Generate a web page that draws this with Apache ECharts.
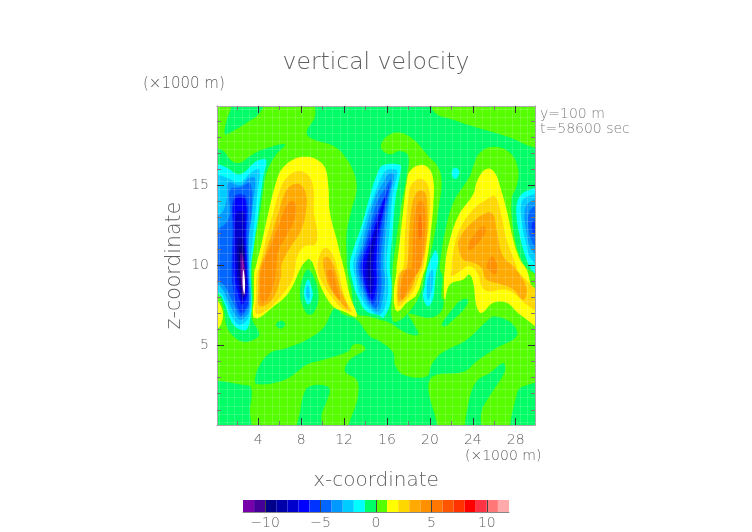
<!DOCTYPE html>
<html>
<head>
<meta charset="utf-8">
<style>html,body{margin:0;padding:0;background:#fff}#chart{width:752px;height:532px}</style>
<script src="https://cdn.jsdelivr.net/npm/echarts@6/dist/echarts.min.js"></script>
</head>
<body>
<div id="chart"></div>
<script>
// colour bar: vertical velocity bands, one per m/s
const bandEdges = [-12,-11,-10,-9,-8,-7,-6,-5,-4,-3,-2,-1,0,1,2,3,4,5,6,7,8,9,10,11,12]
const bandColors = ['#7700aa','#440099','#000088','#0000aa','#0000cc','#0000ff','#0033ff','#0066ff','#0099ff','#00ccff','#00ffff','#00ff66',
  '#55ff00','#ffff00','#ffd700','#ffaa00','#ff9000','#ff7700','#ff5500','#ff3300','#ff0000','#ff3344','#ff7777','#ffaaaa']
const barTicks = [-10,-5,0,5,10]

const xMajor = [4,8,12,16,20,24,28]
const xMinor = [2,6,10,14,18,22,26]
const zMajor = [5,10,15]
const zMinor = [1,2,3,4,6,7,8,9,11,12,13,14,16,17,18,19]

// contour traces, [x, z] in 1000 m
const whole = [[-5,-5],[35,-5],[35,25],[-5,25]]
const negTop = [[9.44,21],[9.29,19.33],[8.51,18.29],[9.13,17.87],[11,17.46],[11.93,16.93],[12.86,15.89],[13.17,14.75],[12.7,13.5],[12.24,12.04],[12.24,10.58],[12.3,9.75],[12.61,8.81],[13.17,7.04],[14.26,6.83],[15.34,6.62],[16.28,6.42],[17.83,5.79],[18.92,5.69],[18.45,6.42],[17.98,6.98],[19.07,6.83],[19.85,6.73],[20.78,6.94],[21.25,7.46],[21.4,8.71],[24.35,9.12],[31.5,9.12],[31.5,17.35],[29.78,17.35],[27.46,17.98],[24.97,18.5],[22.49,19.02],[20.31,19.64],[20,21]]
const posThird = [[15.5,17.66],[16.28,18.18],[17.21,18.29],[18.45,17.87],[19.85,16.83],[20.78,16.1],[21.09,15.16],[20.84,13.71],[20.47,12.04],[20,10.58],[19.69,9.75],[19.54,9.44],[19.07,8.19],[17.98,7.04],[16.74,6.46],[16.43,6.83],[16.43,7.87],[16.52,9.75],[16.83,11.41],[17.27,13.5],[17.83,15.58],[17.98,16.83],[17.21,17.14],[16.28,16.93],[15.5,17.25]]
const posFourth = [[24.04,16.21],[24.66,17.04],[25.9,17.41],[27.46,17.04],[28.23,16],[28.08,14.96],[27.61,14.12],[27.83,12.04],[28.39,10.58],[29.17,9.75],[31,9],[31,4],[24.35,7.04],[21.49,7.87],[21.09,7.98],[21.18,9.33],[20.93,9.75],[21.03,10.58],[21.4,12.04],[22.18,13.91],[23.73,15.58]]
const negLow = [[12.7,-0.6],[13.32,1.94],[13.17,2.87],[12.08,3.4],[12.55,4.12],[13.95,4.75],[13.63,5.06],[12.86,5.06],[12.39,4.65],[10.06,4.12],[8.51,3.81],[7.27,3.19],[6.03,2.77],[3.85,2.6],[3.7,2.98],[4.16,3.81],[5.09,4.54],[6.65,4.85],[8.51,5.37],[10.06,6.1],[11.15,7.35],[11.93,6.94],[13.17,6.62],[14.41,5.58],[15.34,5.27],[16.59,4.54],[16.74,3.81],[17.52,3.19],[19.69,3.08],[20.16,3.81],[21.09,4.54],[23.42,5.37],[25.28,6.52],[26.06,6.83],[27.77,6.31],[28.08,5.58],[26.21,4.85],[24.35,4.02],[23.26,3.4],[20,2.87],[20.31,-0.6]]
const negCornerL = [[-1.5,2.52],[3.07,2.52],[3.39,2.19],[3.23,1.1],[3.07,-0.6],[-1.5,-0.6]]
const negFootA = [[7.73,-0.6],[7.95,1.1],[8.35,2.15],[8.82,2.46],[10.22,2.52],[10.68,2.25],[10.37,1.52],[9.91,0.69],[9.75,-0.6]]
const negFootB = [[23.42,-0.6],[23.57,1.31],[24.35,2.77],[25.59,3.29],[26.83,3.92],[26.99,3.4],[25.75,2.04],[24.82,0.9],[24.66,-0.6]]
const negCornerR = [[27.77,-0.6],[28.08,1.94],[28.7,2.46],[31,2.6],[31,-0.6]]
const negDot = [[5.65,6.31],[6.09,6.56],[6.52,6.35],[6.09,6.06]]
const negPatch = [[21.09,6.31],[22.18,7.35],[22.95,7.87],[23.57,7.87],[23.26,7.35],[22.18,6.62],[21.4,6.21]]
const negMid = [[8.66,9.75],[9.44,8.81],[9.6,7.77],[9.13,7.04],[8.66,6.94],[8.2,7.35],[7.89,8.19],[8.14,9.23]]
const negFinger = [[1.75,20.6],[4.6,20.6],[4.16,19.54],[2.92,18.91],[1.37,18.29],[0.9,18.18],[0.99,18.91],[1.4,19.7]]
const negLeft = [[-1.5,17.29],[0,17.29],[0.75,17.14],[1.52,16.52],[2.3,16.41],[3.23,16.83],[4.47,17.25],[6.49,17.56],[5.56,16.83],[4.78,15.79],[4.47,14.75],[4.16,13.29],[3.7,11.62],[3.39,9.85],[3.48,7.98],[3.39,6.73],[4.1,5.73],[3.54,5.37],[2.61,5.23],[1.68,5.58],[1.06,6.21],[0.81,7.14],[0.43,7.98],[0,8.14],[-1.5,8.14]]

const midCyan = [[8.66,9.12],[8.98,8.6],[9.07,8.08],[8.66,7.56],[8.29,8.08],[8.35,8.71]]
const midBlue = [[8.6,8.81],[8.82,8.19],[8.66,7.87],[8.45,8.19]]
const thinCyan = [[20.53,10.94],[20.78,10.37],[20.62,9.75],[20.47,8.92],[20.31,7.98],[19.85,7.46],[19.38,7.98],[19.54,8.81],[19.75,9.75],[20.16,10.48]]
const thinBlue = [[20.25,9.75],[20.25,8.71],[19.85,7.87],[19.69,8.5],[19.85,9.33]]
const dotCyan = [[22.02,15.79],[22.33,16.1],[22.74,15.89],[22.55,15.48],[22.27,15.41]]

// downdraft near x = 2.5
const w1m2 = [[-1.5,16.35],[0,16.35],[1.06,16.1],[2.3,15.69],[3.85,16.52],[4.72,16.58],[4.47,15.58],[4.01,13.29],[3.54,11],[3.29,9.75],[3.39,7.56],[3.29,6.83],[2.92,6],[2.3,6],[1.68,6.31],[1.21,6.94],[0.9,7.56],[0.43,8.19],[-0.5,8.6],[-1.5,8.6]]
const w1m3 = [[-1.5,15.79],[0,15.69],[1.06,15.48],[2.3,15.21],[3.39,15.83],[4.1,15.96],[3.85,14.12],[3.48,11.62],[3.23,9.75],[3.29,8.81],[3.29,7.46],[2.98,6.62],[2.24,6.31],[1.61,6.73],[0.99,7.67],[0.43,8.29],[-1.5,8.5]]
const w1m4 = [[-1.5,12.9],[0.43,13.19],[1.06,14.12],[1.21,15.16],[2.3,15],[3.17,15.48],[3.7,15.42],[3.48,13.71],[3.17,11.62],[3.17,9.75],[3.23,7.46],[2.86,6.83],[2.3,6.62],[1.83,6.94],[1.21,7.77],[0.59,8.6],[0,8.8],[-1.5,8.9]]
const w1m5 = [[-1.5,12],[0.43,12.35],[1.3,13.08],[1.37,14.75],[2.3,14.87],[3.23,15.12],[3.39,13.5],[3.07,11.62],[3.07,9.75],[3.17,7.67],[2.76,7.04],[2.36,6.83],[1.93,7.25],[1.37,8.08],[0.75,8.81],[0,9],[-1.5,9]]
const w1m6 = [[1.74,14.29],[2.86,14.29],[2.92,11.62],[2.98,9.75],[3.07,7.77],[2.76,7.25],[2.39,7.04],[1.99,7.56],[1.61,8.71],[1.52,9.75],[1.61,12.04]]
const w1m7 = [[1.83,14.12],[2.76,14.12],[2.83,11.62],[2.92,9.75],[2.98,8.19],[2.48,7.56],[2.14,8.19],[1.74,9.44],[1.68,10.37],[1.74,12.04]]
const w1m8 = [[1.99,13.29],[2.7,13.29],[2.7,11.41],[2.86,9.75],[2.92,8.6],[2.51,7.77],[2.24,8.29],[1.93,9.64],[1.83,11.41]]
const w1m9 = [[2.11,11.62],[2.61,11.62],[2.73,9.75],[2.83,9.02],[2.61,7.98],[2.36,8.39],[2.14,9.64]]
const w1m10 = [[2.24,11.2],[2.55,11.1],[2.73,9.75],[2.76,9.12],[2.61,8.19],[2.42,8.6],[2.24,9.64]]
const w1m11 = [[2.36,10.79],[2.61,10.58],[2.8,9.23],[2.67,8.08],[2.45,8.6],[2.3,10.06]]
const w1m12 = [[2.48,10.48],[2.64,10.17],[2.76,9.12],[2.67,8.25],[2.51,8.81],[2.42,9.75]]
const w1hole = [[2.61,9.75],[2.76,9.02],[2.7,8.19],[2.55,8.81]]

// downdraft near x = 15
const w2m2 = [[15.19,15.89],[15.65,16.27],[17.21,16.27],[17.27,15.89],[16.83,14.33],[16.52,12.04],[16.27,9.75],[16.43,8.81],[16.27,7.56],[15.65,6.73],[15.34,6.87],[14.1,7.14],[13.32,7.98],[12.86,8.81],[12.55,10.06],[12.86,11],[13.63,12.46],[14.41,14.33]]
const w2m3 = [[15.5,15.54],[15.96,15.96],[16.9,15.96],[16.96,15.69],[16.52,14.33],[16.21,12.04],[15.96,10.06],[16.12,8.92],[15.96,7.77],[15.34,6.94],[14.41,7.25],[13.54,8.08],[13.11,9.12],[12.86,10.06],[13.32,11.21],[14.1,13.08],[14.88,14.54]]
const w2m4 = [[15.65,15.16],[16.12,15.69],[16.65,15.69],[16.27,14.33],[15.9,12.04],[15.65,10.06],[15.81,9.12],[15.59,7.87],[15.19,7.14],[14.41,7.46],[13.79,8.19],[13.32,9.12],[13.11,10.06],[13.63,11.21],[14.35,13.08],[15.03,14.44]]
const w2m5 = [[15.87,14.85],[16.31,15.37],[16.43,15.27],[16.12,14.23],[15.65,12.04],[15.41,10.06],[15.5,9.02],[15.34,7.98],[14.97,7.35],[14.41,7.67],[13.95,8.29],[13.54,9.12],[13.32,10.06],[13.85,11.21],[14.57,12.87],[15.19,14.12]]
const w2m6 = [[15.96,14.54],[16.21,15],[15.84,13.71],[15.41,12.04],[15.19,10.06],[15.22,9.02],[15.03,8.08],[14.72,7.62],[14.35,7.87],[14.04,8.39],[13.73,9.12],[13.54,10.06],[14.04,11.21],[14.72,12.66],[15.34,13.71]]
const w2m7 = [[15.87,14.33],[15.65,13.5],[15.19,11.83],[14.97,10.06],[15.03,9.12],[14.88,8.29],[14.63,7.87],[14.26,8.19],[13.88,9.12],[13.73,10.06],[14.26,11.21],[14.88,12.46],[15.34,13.39]]
const w2m8 = [[15.65,13.71],[15.41,13.08],[14.97,11.62],[14.72,10.06],[14.78,9.12],[14.66,8.39],[14.47,8.19],[14.16,8.71],[13.98,9.54],[14.1,10.37],[14.47,11.21],[14.97,12.35]]
const w2m9 = [[15.2,12.6],[14.72,11.41],[14.47,9.96],[14.5,9.1],[14.41,8.8],[14.28,9.12],[14.22,9.96],[14.4,10.79],[14.8,11.73]]

// downdraft on the right edge
const w3m2 = [[28.23,14.12],[29.01,14.64],[31,14.8],[31,8.9],[30.1,9.33],[29.48,9.75],[29.01,10.37],[28.54,11.41],[28.08,13.08]]
const w3m3 = [[28.54,13.91],[29.17,14.33],[31,14.4],[31,9.6],[29.48,10.37],[28.95,11.41],[28.54,12.87]]
const w3m4 = [[28.85,13.5],[29.48,14.02],[31,14.2],[31,10],[29.48,11],[29.01,12.04]]
const w3m5 = [[29.17,13.08],[29.79,13.71],[31,13.8],[31,10.4],[29.57,11.41]]
const w3m6 = [[29.57,12.66],[31,13.2],[31,10.9],[29.79,11.83]]

// updraft near x = 7 with its ridge to x = 11
const u1p1 = [[3.73,9.85],[4.32,11.41],[4.94,13.29],[5.56,14.96],[6.18,16],[7.27,16.62],[8.36,16.79],[9.44,16.62],[10.22,16.1],[10.53,14.96],[10.68,13.29],[11.31,11.62],[11.77,10.37],[12.08,9.54],[12.55,8.08],[13.17,6.83],[11.93,7.14],[11.15,7.35],[10.37,7.98],[9.75,8.81],[9.29,9.75],[8.98,10.27],[8.67,10.41],[8.29,10.17],[8.04,9.96],[6.8,8.29],[5.25,7.35],[4.01,6.73],[3.54,6.83],[3.6,7.98],[3.63,9.64]]
const u1p2 = [[4.07,9.85],[4.63,11.41],[5.4,13.29],[6.03,14.75],[6.65,15.48],[7.73,15.89],[8.67,15.62],[9.13,14.85],[9.19,13.29],[9.5,12.04],[9.29,11.31],[8.35,11.21],[7.64,10.58],[7.42,9.75],[7.11,9.02],[5.71,7.77],[4.32,7.04],[3.76,7.04],[3.79,8.08],[3.85,9.54]]
const u1p3 = [[4.16,9.85],[5.09,11.62],[5.87,13.29],[6.49,14.54],[7.11,15],[7.89,15.06],[8.45,14.44],[8.42,13.29],[7.95,12.14],[6.96,11.1],[6.18,10.06],[6.09,9.23],[5.4,7.98],[4.47,7.46],[4.01,7.56],[4.01,8.5],[4.07,9.54]]
const u1p4 = [[4.32,9.85],[5.09,11.1],[5.87,12.46],[6.58,13.66],[7.11,14.02],[7.52,13.75],[7.33,12.77],[6.58,11.83],[5.87,10.89],[5.65,9.75],[5.4,8.71],[4.78,7.87],[4.32,7.67],[4.16,8.71]]
const ridgeP2 = [[9.6,10.37],[10.22,11.1],[10.84,10.79],[11.46,9.64],[12.08,7.98],[12.7,7.14],[11.77,7.35],[10.68,8.19],[9.91,9.02],[9.6,9.48]]
const ridgeP3 = [[10.06,10.37],[10.37,10.54],[10.84,10.27],[11.24,9.54],[11.68,8.5],[12.39,7.29],[11.46,7.87],[10.68,8.6],[10.22,9.44]]
const ridgeP4 = [[10.43,9.64],[10.84,9.75],[11.31,8.71],[11.68,7.87],[11.06,8.29],[10.62,9.02]]
const edgeP1 = [[-1.5,7.77],[0,7.77],[0.28,7.73],[0.68,7.14],[0.62,6.52],[0.28,6.1],[0,6.1],[-1.5,6.1]]

// updraft near x = 19
const u3p1 = [[16.89,9.85],[17.21,11.62],[17.52,13.5],[17.83,15.16],[18.14,15.89],[19.07,16.27],[19.85,16.1],[20.31,15.37],[20.31,13.71],[20,11.62],[19.63,9.96],[19.38,9.44],[18.76,8.19],[17.83,7.67],[17.05,7.14],[16.74,7.35],[16.65,8.39],[16.89,9.64]]
const u3p2 = [[17.52,9.85],[17.67,11.83],[17.98,14.12],[18.29,15.06],[19.07,15.41],[19.69,15.16],[20,14.33],[20,13.29],[19.75,11.62],[19.38,9.85],[19.07,9.44],[18.45,8.39],[17.67,7.77],[17.05,7.46],[16.9,7.98],[17.05,9.44]]
const u3p3 = [[17.83,9.85],[18.08,12.04],[18.39,13.91],[18.92,14.64],[19.54,14.54],[19.75,13.71],[19.75,12.04],[19.23,9.96],[18.92,9.75],[18.3,8.6],[17.52,7.87],[17.05,7.77],[17.05,8.81],[17.36,9.64]]
const u3p4 = [[18.3,9.85],[18.45,12.04],[18.76,13.71],[19.23,14.02],[19.54,13.5],[19.54,12.04],[19.07,9.85],[18.3,9.02],[17.52,7.98],[17.21,7.98],[17.36,9.02],[17.83,9.75]]
const u3p5 = [[18.92,12.46],[19.07,13.19],[19.26,12.56],[19.23,11.83],[19.01,11.62]]

// updraft near x = 25
const u4p1 = [[21.4,9.85],[21.71,11.21],[22.64,13.08],[24.04,14.44],[24.35,15.16],[24.97,15.89],[25.59,16.04],[26.15,15.69],[26.53,14.96],[27.15,13.5],[27.77,11.62],[28.39,10.37],[29.01,9.75],[29.79,8.19],[31,7.8],[31,5.9],[28.39,6.94],[27.15,7.67],[25.9,7.67],[24.82,7.04],[24.35,7.46],[24.04,8.92],[23.66,9.44],[23.1,9.12],[21.86,8.81],[21.4,7.87],[21.31,8.92]]
const u4p2 = [[22.02,9.85],[22.11,10.58],[22.64,12.04],[23.88,13.39],[25.28,14.12],[26.06,14.33],[26.68,13.08],[27.15,11.62],[28.08,9.96],[28.23,9.64],[31,7.6],[31,6.8],[29.01,7.56],[27.77,8.29],[26.83,8.5],[25.43,8.39],[24.82,8.71],[24.5,9.44],[23.73,9.96],[22.8,9.64],[22.02,9.33]]
const u4p3 = [[22.64,11.21],[22.8,11.73],[23.73,12.56],[25.28,13.29],[25.9,13.19],[26.21,12.25],[26.83,10.58],[27.92,9.85],[29.01,8.6],[28.7,7.87],[27.77,8.5],[26.68,8.81],[25.28,9.12],[24.82,9.85],[24.04,10.17],[23.1,10.37]]
const u4p4a = [[23.57,11.21],[24.04,11.83],[24.97,12.46],[25.22,12.14],[24.5,11.41],[23.73,10.96]]
const u4p4b = [[25.28,9.96],[25.75,10.58],[26.21,10.17],[26.27,9.64],[26.06,9.44],[25.43,9.75]]

// painted in this order, each one over the last: [band value, trace]
const layers = [
  [0.5, whole], [-0.5, negTop], [0.5, posThird], [0.5, posFourth], [-0.5, negLow],
  [-0.5, negCornerL], [-0.5, negFootA], [-0.5, negFootB], [-0.5, negCornerR], [-0.5, negDot],
  [-0.5, negPatch], [-0.5, negMid], [-0.5, negFinger], [-0.5, negLeft],
  [-1.5, midCyan], [-2.5, midBlue], [-1.5, thinCyan], [-2.5, thinBlue], [-1.5, dotCyan],
  [-1.5, w1m2], [-2.5, w1m3], [-3.5, w1m4], [-4.5, w1m5], [-5.5, w1m6], [-6.5, w1m7], [-7.5, w1m8],
  [-8.5, w1m9], [-9.5, w1m10], [-10.5, w1m11], [-11.5, w1m12], [-13, w1hole],
  [-1.5, w2m2], [-2.5, w2m3], [-3.5, w2m4], [-4.5, w2m5], [-5.5, w2m6], [-6.5, w2m7], [-7.5, w2m8], [-8.5, w2m9],
  [-1.5, w3m2], [-2.5, w3m3], [-3.5, w3m4], [-4.5, w3m5], [-5.5, w3m6],
  [1.5, u1p1], [2.5, u1p2], [3.5, u1p3], [4.5, u1p4], [2.5, ridgeP2], [3.5, ridgeP3], [4.5, ridgeP4], [1.5, edgeP1],
  [1.5, u3p1], [2.5, u3p2], [3.5, u3p3], [4.5, u3p4], [5.5, u3p5],
  [1.5, u4p1], [2.5, u4p2], [3.5, u4p3], [4.5, u4p4a], [4.5, u4p4b]
]

const meshX = [], meshZ = []
for (let v = 0.4; v < 30; v += 0.7) meshX.push(v)
for (let v = 0.25; v < 20; v += 0.5) meshZ.push(v)

const FONT = 'DejaVu Sans'
const INK = '#5f5f5f'
const xRange = { min: 0.15, max: 29.8 }
const zRange = { min: 0.05, max: 19.95 }

function colorOf (v) {
  if (v < bandEdges[0]) return '#ffffff'
  return bandColors[Math.floor(v - bandEdges[0])]
}

function frameAxis (range, position, ticks, len, tickColor, extra) {
  return Object.assign({
    type: 'value', gridIndex: 0, position: position, min: range.min, max: range.max, z: 10,
    axisLine: { show: true, onZero: false, lineStyle: { color: '#aaa', width: 1 } },
    axisTick: { show: true, inside: true, length: len, customValues: ticks, lineStyle: { color: tickColor, width: 1 } },
    axisLabel: { show: false },
    splitLine: { show: false }
  }, extra || {})
}

function meshAxis (range, position, lines) {
  return {
    type: 'value', gridIndex: 0, position: position, min: range.min, max: range.max, z: 9,
    axisLine: { show: false },
    axisTick: { show: false, customValues: lines },
    axisLabel: { show: false },
    splitLine: { show: true, lineStyle: { color: 'rgba(255,255,255,0.16)', width: 1 } }
  }
}

const thin = { color: INK, fontFamily: FONT, fontWeight: 200 }
const tickText = Object.assign({ show: true, fontSize: 14 }, thin)

let myChart = echarts.init(document.getElementById('chart'), null, { renderer: 'canvas' })
myChart.setOption({
  animation: false,
  backgroundColor: '#fff',
  title: [
    { text: 'vertical velocity', left: 376, top: 51, padding: 0, textAlign: 'center', textStyle: Object.assign({ fontSize: 23.5 }, thin) },
    { text: '(×1000 m)', left: 143, top: 77, padding: 0, textStyle: Object.assign({ fontSize: 15 }, thin) },
    { text: '(×1000 m)', left: 465, top: 449, padding: 0, textStyle: Object.assign({ fontSize: 14 }, thin) },
    { text: 'y=100 m', left: 540, top: 107, padding: 0, textStyle: Object.assign({ fontSize: 14 }, thin, { color: '#808080' }) },
    { text: 't=58600 sec', left: 540, top: 122, padding: 0, textStyle: Object.assign({ fontSize: 14 }, thin, { color: '#808080' }) }
  ],
  grid: [
    { left: 217, top: 106, width: 318, height: 319 },
    { left: 243, top: 500, width: 266, height: 12 }
  ],
  xAxis: [
    frameAxis(xRange, 'bottom', xMajor, 7, '#333', {
      name: 'x-coordinate', nameLocation: 'middle', nameGap: 46,
      nameTextStyle: Object.assign({ fontSize: 20 }, thin),
      axisLabel: Object.assign({ customValues: xMajor, margin: 8 }, tickText)
    }),
    frameAxis(xRange, 'bottom', xMinor, 4, '#777'),
    frameAxis(xRange, 'top', xMajor, 7, '#333'),
    frameAxis(xRange, 'top', xMinor, 4, '#777'),
    meshAxis(xRange, 'bottom', meshX),
    {
      type: 'value', gridIndex: 1, min: -12, max: 12, position: 'bottom', z: 10,
      axisLine: { show: true, onZero: false, lineStyle: { color: '#888' } },
      axisTick: { show: true, inside: true, length: 12, customValues: barTicks, lineStyle: { color: '#444', width: 1 } },
      axisLabel: Object.assign({ customValues: barTicks, margin: 4, formatter: v => String(v).replace('-', '−') }, tickText),
      splitLine: { show: false }
    }
  ],
  yAxis: [
    frameAxis(zRange, 'left', zMajor, 7, '#333', {
      name: 'z-coordinate', nameLocation: 'middle', nameRotate: 90, nameGap: 32,
      nameTextStyle: Object.assign({ fontSize: 20.5 }, thin),
      axisLabel: Object.assign({ customValues: zMajor, margin: 8 }, tickText)
    }),
    frameAxis(zRange, 'left', zMinor, 4, '#777'),
    frameAxis(zRange, 'right', zMajor, 7, '#333'),
    frameAxis(zRange, 'right', zMinor, 4, '#777'),
    meshAxis(zRange, 'left', meshZ),
    {
      type: 'value', gridIndex: 1, min: 0, max: 1, position: 'left', z: 10,
      axisLine: { show: false }, axisTick: { show: false }, axisLabel: { show: false }, splitLine: { show: false }
    }
  ],
  series: [
    {
      type: 'custom',
      coordinateSystem: 'cartesian2d',
      xAxisIndex: 0,
      yAxisIndex: 0,
      clip: true,
      silent: true,
      data: layers.map((l, i) => [i]),
      renderItem: function (params, api) {
        const layer = layers[api.value(0)]
        return {
          type: 'polygon',
          shape: { points: layer[1].map(p => api.coord(p)), smooth: 0.4 },
          style: { fill: colorOf(layer[0]) }
        }
      }
    },
    {
      type: 'custom',
      coordinateSystem: 'cartesian2d',
      xAxisIndex: 5,
      yAxisIndex: 5,
      silent: true,
      data: bandColors.map((c, i) => [bandEdges[i], bandEdges[i + 1]]),
      encode: { x: [0, 1] },
      renderItem: function (params, api) {
        const a = api.coord([api.value(0), 0])
        const b = api.coord([api.value(1), 1])
        return {
          type: 'rect',
          shape: { x: a[0], y: b[1], width: b[0] - a[0], height: a[1] - b[1] },
          style: { fill: bandColors[params.dataIndex] }
        }
      }
    }
  ]
})
</script>
</body>
</html>
